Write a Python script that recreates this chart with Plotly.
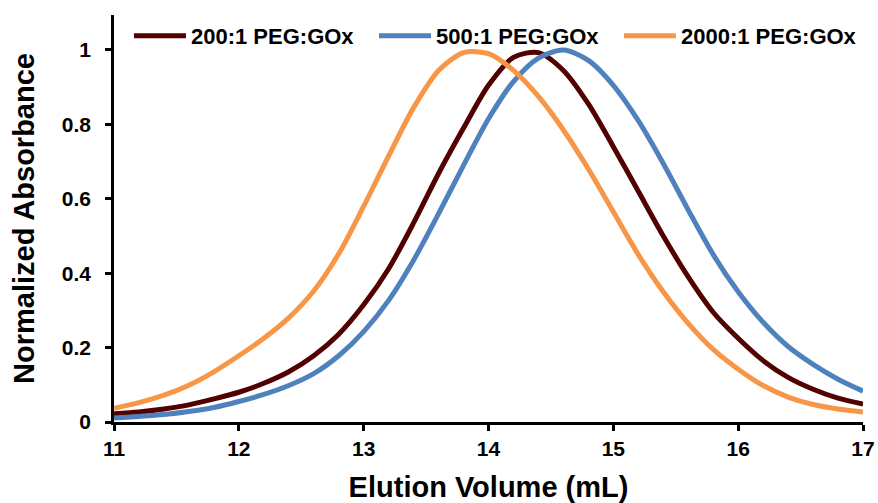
import plotly.graph_objects as go

# Elution volume grid (mL) at 0.2 mL steps
elution = [11.0, 11.2, 11.4, 11.6, 11.8, 12.0, 12.2, 12.4, 12.6, 12.8, 13.0,
           13.2, 13.4, 13.6, 13.8, 14.0, 14.2, 14.4, 14.6, 14.8, 15.0,
           15.2, 15.4, 15.6, 15.8, 16.0, 16.2, 16.4, 16.6, 16.8, 17.0]

abs_200 = [0.022, 0.027, 0.035, 0.046, 0.062, 0.080, 0.104, 0.135, 0.178, 0.236, 0.315,
           0.412, 0.535, 0.668, 0.790, 0.905, 0.980, 0.993, 0.945, 0.855, 0.740,
           0.620, 0.500, 0.390, 0.295, 0.225, 0.165, 0.120, 0.088, 0.064, 0.048]

abs_500 = [0.011, 0.015, 0.020, 0.028, 0.039, 0.055, 0.074, 0.098, 0.130, 0.178, 0.243,
           0.327, 0.435, 0.560, 0.690, 0.815, 0.915, 0.978, 1.000, 0.972, 0.905,
           0.810, 0.695, 0.570, 0.450, 0.350, 0.268, 0.203, 0.155, 0.115, 0.083]

abs_2000 = [0.037, 0.052, 0.072, 0.099, 0.135, 0.178, 0.225, 0.280, 0.352, 0.452, 0.580,
            0.715, 0.845, 0.945, 0.993, 0.990, 0.945, 0.875, 0.785, 0.680, 0.565,
            0.450, 0.350, 0.265, 0.195, 0.142, 0.098, 0.067, 0.047, 0.035, 0.027]

series_names = ["200:1 PEG:GOx", "500:1 PEG:GOx", "2000:1 PEG:GOx"]
colors = ["#520000", "#4F81BD", "#F79646"]

x_ticks = [11, 12, 13, 14, 15, 16, 17]
y_ticks = [0, 0.2, 0.4, 0.6, 0.8, 1]
y_tick_text = ["0", "0.2", "0.4", "0.6", "0.8", "1"]

FONT = "Liberation Sans, Arial, sans-serif"

fig = go.Figure()
for ys, name, col in zip([abs_200, abs_500, abs_2000], series_names, colors):
    fig.add_trace(go.Scatter(x=elution, y=ys, mode="lines", name=name,
                             line=dict(color=col, width=5, shape="spline", smoothing=0.8)))

axis_common = dict(showgrid=False, zeroline=False, showline=True, linecolor="black",
                   linewidth=2.5, ticks="outside", ticklen=6, tickwidth=2.5, tickcolor="black",
                   tickfont=dict(family=FONT, size=21, color="black", weight="bold"))

fig.update_xaxes(range=[11, 17], tickvals=x_ticks, ticklabelstandoff=0,
                 title=dict(text="<b>Elution Volume (mL)</b>", font=dict(family=FONT, size=29, color="black"),
                            standoff=22),
                 **axis_common)
fig.update_yaxes(range=[0, 1.094], tickvals=y_ticks, ticktext=y_tick_text, ticklabelstandoff=10,
                 title=dict(text="<b>Normalized Absorbance</b>", font=dict(family=FONT, size=29, color="black"),
                            standoff=19),
                 **axis_common)

fig.update_layout(
    width=878, height=503,
    margin=dict(l=114, r=15, t=15, b=81, autoexpand=False),
    paper_bgcolor="white", plot_bgcolor="white",
    showlegend=True,
    legend=dict(orientation="h", x=0.02, xanchor="left", y=1.0, yanchor="top",
                bgcolor="rgba(0,0,0,0)", itemwidth=52, entrywidth=178,
                font=dict(family=FONT, size=22, color="black", weight="bold")),
)

fig.write_html("out.html")
